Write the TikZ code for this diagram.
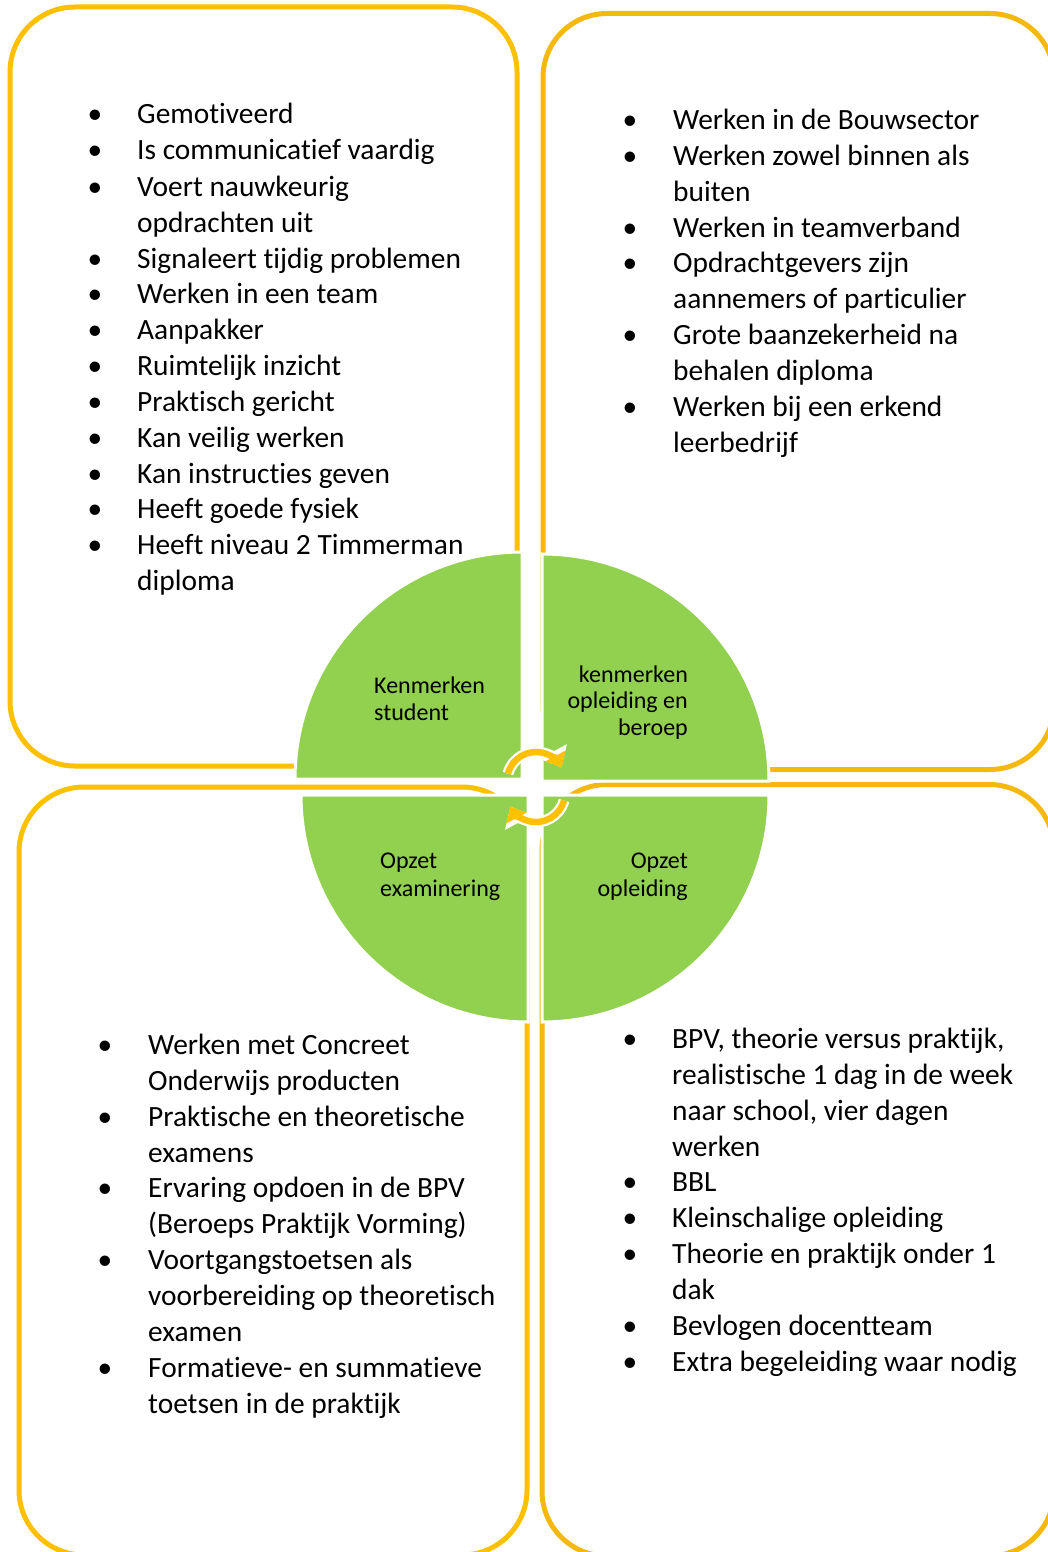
\documentclass[tikz,border=0pt]{standalone}
\usepackage{fontspec}
\setmainfont{Carlito}[Ligatures=NoCommon]
\usetikzlibrary{arrows.meta}
\definecolor{boxyelA}{HTML}{FFC000}
\definecolor{boxyelB}{HTML}{F5B80F}
\definecolor{quadgreen}{HTML}{92D050}
\definecolor{arrowyel}{HTML}{FFC000}
\tikzset{
  frame/.style={draw=boxyelA, line width=5pt, rounded corners=65pt},
  frameB/.style={frame, draw=boxyelB},
  quad/.style={fill=quadgreen, draw=white, line width=3pt},
  bul/.style={anchor=base, inner sep=0pt, font=\fontsize{29.4}{36}\selectfont},
  itm/.style={anchor=base west, inner sep=0pt, font=\fontsize{29.4}{36}\selectfont},
  qlabL/.style={anchor=base west, inner sep=0pt, font=\fontsize{24}{27}\selectfont},
  qlabR/.style={anchor=base east, inner sep=0pt, font=\fontsize{24}{27}\selectfont},
  cycout/.style={draw=white, line width=11pt, -{Triangle[length=18pt,width=30pt]}},
  cycin/.style={draw=arrowyel, line width=6.5pt, -{Triangle[length=13pt,width=22pt]}},
}
\newcommand{\tl}[4]{\node[itm] (#1) at (#2,#3) {#4};}
\newcommand{\bu}[3]{\node[bul] (#1) at (#2,#3) {\textbullet};}
\begin{document}
\begin{tikzpicture}[x=1pt,y=-1pt]
\useasboundingbox (0,0) rectangle (1048,1552);
\clip (0,0) rectangle (1048,1552);
\fill[white] (0,0) rectangle (1048,1552);

% frames
\draw[frame] (10,7) rectangle (517,766);
\draw[frameB, rounded corners=64pt] (543,13.5) rectangle (1054,769.5);
\draw[frameB] (542,784.5) rectangle (1054,1556);
\draw[frame] (19,787) rectangle (527,1555);

% quadrants
\filldraw[quad] (522,779) -- (295,779) arc[start angle=180,end angle=270,radius=227] -- cycle;
\filldraw[quad] (542,781) -- (542,554) arc[start angle=270,end angle=360,radius=227] -- cycle;
\filldraw[quad] (542,795) -- (769,795) arc[start angle=0,end angle=90,radius=227] -- cycle;
\filldraw[quad] (528,795) -- (528,1022) arc[start angle=90,end angle=180,radius=227] -- cycle;

% cycle arrows
\coordinate (ctop) at (536,781);
\coordinate (cbot) at (536,793);
\draw[cycout] (ctop) ++(195:29) arc[start angle=195,end angle=332,radius=29];
\draw[cycin]  (ctop) ++(195:29) arc[start angle=195,end angle=332,radius=29];
\draw[cycout] (cbot) ++(15:29) arc[start angle=15,end angle=152,radius=29];
\draw[cycin]  (cbot) ++(15:29) arc[start angle=15,end angle=152,radius=29];

% quadrant labels
\node[qlabL] (q1a) at (374,693) {Kenmerken};
\node[qlabL] (q1b) at (374,720) {student};
\node[qlabR] (q2a) at (688,682) {kenmerken};
\node[qlabR] (q2b) at (688,708) {opleiding en};
\node[qlabR] (q2c) at (688,735) {beroep};
\node[qlabL] (q3a) at (380,868) {Opzet};
\node[qlabL] (q3b) at (380,896) {examinering};
\node[qlabR] (q4a) at (688,868) {Opzet};
\node[qlabR] (q4b) at (688,896) {opleiding};

% top-left list
\bu{a1}{95}{124}\tl{ta1}{137}{124}{Gemotiveerd}
\bu{a2}{95}{160}\tl{ta2}{137}{160}{Is communicatief vaardig}
\bu{a3}{95}{196}\tl{ta3}{137}{196}{Voert nauwkeurig}
\tl{ta3b}{137}{232}{opdrachten uit}
\bu{a4}{95}{268}\tl{ta4}{137}{268}{Signaleert tijdig problemen}
\bu{a5}{95}{303}\tl{ta5}{137}{303}{Werken in een team}
\bu{a6}{95}{339}\tl{ta6}{137}{339}{Aanpakker}
\bu{a7}{95}{375}\tl{ta7}{137}{375}{Ruimtelijk inzicht}
\bu{a8}{95}{411}\tl{ta8}{137}{411}{Praktisch gericht}
\bu{a9}{95}{447}\tl{ta9}{137}{447}{Kan veilig werken}
\bu{a10}{95}{483}\tl{ta10}{137}{483}{Kan instructies geven}
\bu{a11}{95}{518}\tl{ta11}{137}{518}{Heeft goede fysiek}
\bu{a12}{95}{554}\tl{ta12}{137}{554}{Heeft niveau 2 Timmerman}
\tl{ta12b}{137}{590}{diploma}

% top-right list
\bu{b1}{630}{129}\tl{tb1}{673}{129}{Werken in de Bouwsector}
\bu{b2}{630}{165}\tl{tb2}{673}{165}{Werken zowel binnen als}
\tl{tb2b}{673}{201}{buiten}
\bu{b3}{630}{237}\tl{tb3}{673}{237}{Werken in teamverband}
\bu{b4}{630}{272}\tl{tb4}{673}{272}{Opdrachtgevers zijn}
\tl{tb4b}{673}{308}{aannemers of particulier}
\bu{b5}{630}{344}\tl{tb5}{673}{344}{Grote baanzekerheid na}
\tl{tb5b}{673}{380}{behalen diploma}
\bu{b6}{630}{416}\tl{tb6}{673}{416}{Werken bij een erkend}
\tl{tb6b}{673}{452}{leerbedrijf}

% bottom-left list
\bu{c1}{105}{1054}\tl{tc1}{148}{1054}{Werken met Concreet}
\tl{tc1b}{148}{1090}{Onderwijs producten}
\bu{c2}{105}{1126}\tl{tc2}{148}{1126}{Praktische en theoretische}
\tl{tc2b}{148}{1162}{examens}
\bu{c3}{105}{1197}\tl{tc3}{148}{1197}{Ervaring opdoen in de BPV}
\tl{tc3b}{148}{1233}{(Beroeps Praktijk Vorming)}
\bu{c4}{105}{1269}\tl{tc4}{148}{1269}{Voortgangstoetsen als}
\tl{tc4b}{148}{1305}{voorbereiding op theoretisch}
\tl{tc4c}{148}{1341}{examen}
\bu{c5}{105}{1377}\tl{tc5}{148}{1377}{Formatieve- en summatieve}
\tl{tc5b}{148}{1413}{toetsen in de praktijk}

% bottom-right list
\bu{d1}{630}{1048}\tl{td1}{672}{1048}{BPV, theorie versus praktijk,}
\tl{td1b}{672}{1084}{realistische 1 dag in de week}
\tl{td1c}{672}{1120}{naar school, vier dagen}
\tl{td1d}{672}{1156}{werken}
\bu{d2}{630}{1191}\tl{td2}{672}{1191}{BBL}
\bu{d3}{630}{1227}\tl{td3}{672}{1227}{Kleinschalige opleiding}
\bu{d4}{630}{1263}\tl{td4}{672}{1263}{Theorie en praktijk onder 1}
\tl{td4b}{672}{1299}{dak}
\bu{d5}{630}{1335}\tl{td5}{672}{1335}{Bevlogen docentteam}
\bu{d6}{630}{1371}\tl{td6}{672}{1371}{Extra begeleiding waar nodig}
\end{tikzpicture}
\end{document}
